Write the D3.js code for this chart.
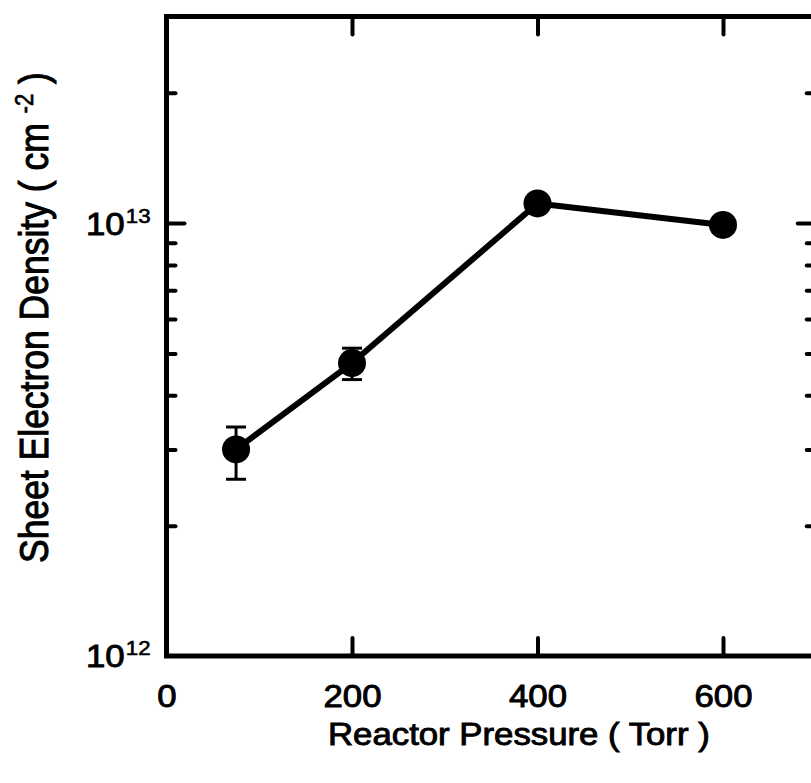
<!DOCTYPE html>
<html>
<head>
<meta charset="utf-8">
<script src="https://cdn.jsdelivr.net/npm/d3@7"></script>
<style>
body { margin: 0; background: #fff; }
text { font-family: "Liberation Sans", Arial, Helvetica, sans-serif; fill: #000; }
</style>
</head>
<body>
<div id="chart"></div>
<script>
// values
const pressure = [75, 200, 400, 600]
const density = [3.0e12, 4.75e12, 1.11e13, 9.9e12]
const errLow = [2.56e12, 4.35e12, null, null]
const errHigh = [3.38e12, 5.14e12, null, null]
const xTickValues = [0, 200, 400, 600]
const yMajorTicks = [1e12, 1e13]
const yMinorTicks = [2e12, 3e12, 4e12, 5e12, 6e12, 7e12, 8e12, 9e12, 2e13]
const yExponents = ["12", "13"]
const xTitle = "Reactor Pressure ( Torr )"
const yTitle = "Sheet Electron Density ( cm "
const yTitleSup = "-2"

const width = 811, height = 783
const plotLeft = 166.5, plotRight = 815.75, plotTop = 16.5, plotBottom = 656
const stretch = 1.14   // the scan is a bit wider than tall
const inkWidth = 0.9   // scanned type looks heavier

let svg = d3.select("#chart").append("svg").attr("width", width).attr("height", height)
svg.append("rect").attr("width", width).attr("height", height).attr("fill", "white")

let x = d3.scaleLinear().domain([0, 700]).range([plotLeft, plotRight])
let y = d3.scaleLog().domain([1e12, 3e13]).range([plotBottom, plotTop])

function styleAxis(g) {
    g.select(".domain").remove()
    g.selectAll(".tick line").attr("stroke", "black").attr("stroke-width", 4).attr("stroke-linecap", "round")
}

// bottom axis with labels
let xAxisG = svg.append("g").attr("transform", `translate(0,${plotBottom})`)
    .call(d3.axisBottom(x).tickValues(xTickValues).tickSize(-18).tickPadding(29).tickFormat(d3.format("d")))
styleAxis(xAxisG)
xAxisG.selectAll(".tick line").filter(d => d === 0).remove()
xAxisG.attr("font-size", 30.5).attr("font-family", null)
xAxisG.selectAll(".tick text")
    .attr("fill", "black").attr("stroke", "black").attr("stroke-width", inkWidth)
    .attr("transform", `scale(${stretch},1)`)

// top axis, ticks only
let topAxisG = svg.append("g").attr("transform", `translate(0,${plotTop})`)
    .call(d3.axisTop(x).tickValues(xTickValues.slice(1)).tickSize(-18).tickFormat(""))
styleAxis(topAxisG)

// left axis, major with labels
let yAxisG = svg.append("g").attr("transform", `translate(${plotLeft},0)`)
    .call(d3.axisLeft(y).tickValues(yMajorTicks).tickSize(-18).tickPadding(16).tickFormat(() => ""))
styleAxis(yAxisG)
yAxisG.selectAll(".tick line").filter(d => d === 1e12).remove()
yAxisG.attr("font-size", 30.5).attr("font-family", null)
yAxisG.selectAll(".tick text").each(function(d, i) {
    let t = d3.select(this)
        .attr("fill", "black").attr("stroke", "black").attr("stroke-width", inkWidth)
        .attr("dy", "0.36em")
        .attr("transform", `translate(-16,0) scale(${stretch},1) translate(16,0)`)
    t.append("tspan").text("10")
    t.append("tspan").attr("font-size", 19.5).attr("dy", -12).attr("dx", 1).attr("stroke-width", 0.6).text(yExponents[i])
})

let yMinorG = svg.append("g").attr("transform", `translate(${plotLeft},0)`)
    .call(d3.axisLeft(y).tickValues(yMinorTicks).tickSize(-9).tickFormat(""))
styleAxis(yMinorG)

// right axis, ticks only
let rMajorG = svg.append("g").attr("transform", `translate(${plotRight},0)`)
    .call(d3.axisRight(y).tickValues(yMajorTicks.slice(1)).tickSize(-18).tickFormat(""))
styleAxis(rMajorG)
let rMinorG = svg.append("g").attr("transform", `translate(${plotRight},0)`)
    .call(d3.axisRight(y).tickValues(yMinorTicks).tickSize(-9).tickFormat(""))
styleAxis(rMinorG)

// frame
svg.append("rect")
    .attr("x", plotLeft).attr("y", plotTop)
    .attr("width", plotRight - plotLeft).attr("height", plotBottom - plotTop)
    .attr("fill", "none").attr("stroke", "black").attr("stroke-width", 5)

let points = pressure.map((p, i) => ({p: p, n: density[i], lo: errLow[i], hi: errHigh[i]}))

// connecting line
svg.append("path").datum(points)
    .attr("fill", "none").attr("stroke", "black").attr("stroke-width", 6).attr("stroke-linejoin", "round")
    .attr("d", d3.line().x(d => x(d.p)).y(d => y(d.n)))

// error bars
let errs = svg.append("g").selectAll("g").data(points.filter(d => d.lo !== null)).enter().append("g")
    .attr("stroke", "black").attr("stroke-width", 3)
errs.append("line")
    .attr("x1", d => x(d.p)).attr("x2", d => x(d.p))
    .attr("y1", d => y(d.lo)).attr("y2", d => y(d.hi))
errs.append("line")
    .attr("x1", d => x(d.p) - 10).attr("x2", d => x(d.p) + 10)
    .attr("y1", d => y(d.hi)).attr("y2", d => y(d.hi))
errs.append("line")
    .attr("x1", d => x(d.p) - 10).attr("x2", d => x(d.p) + 10)
    .attr("y1", d => y(d.lo)).attr("y2", d => y(d.lo))

// markers
svg.append("g").selectAll("circle").data(points).enter().append("circle")
    .attr("cx", d => x(d.p)).attr("cy", d => y(d.n)).attr("r", 14).attr("fill", "black")

// axis titles
svg.append("text")
    .attr("transform", `translate(328,745) scale(${stretch},1)`)
    .attr("font-size", 30.5).attr("stroke", "black").attr("stroke-width", inkWidth)
    .text(xTitle)

let yt = svg.append("text")
    .attr("transform", `translate(48,563) rotate(-90) scale(1,${stretch})`)
    .attr("font-size", 35.5).attr("stroke", "black").attr("stroke-width", inkWidth)
yt.append("tspan").text(yTitle)
yt.append("tspan").attr("font-size", 22).attr("dy", -13).attr("stroke-width", 0.6).text(yTitleSup)
yt.append("tspan").attr("dy", 13).text(" )")
</script>
</body>
</html>
